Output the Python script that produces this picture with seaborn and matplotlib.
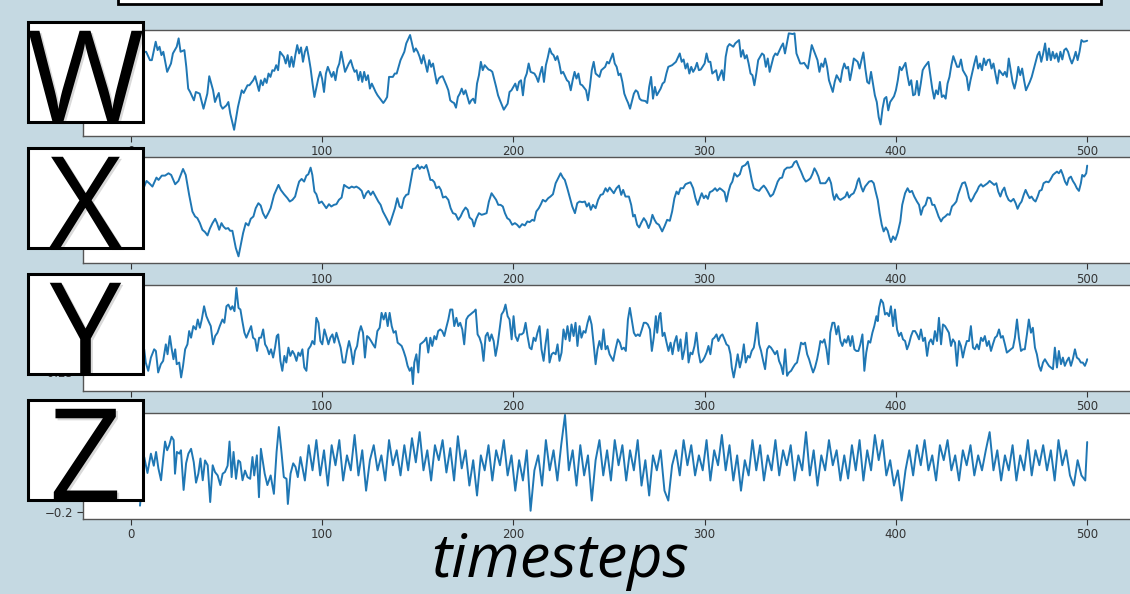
import matplotlib
matplotlib.use("Agg")
import matplotlib.pyplot as plt
import matplotlib.patheffects as pe
from matplotlib.patches import Rectangle
import seaborn as sns

# W series (timestep, value)
w_t = [0, 8, 10, 11, 13, 14, 15, 16, 17, 19, 21, 22, 24, 25, 26, 28, 29, 30, 31, 33, 34, 36, 38, 40, 41, 43, 44, 45, 46, 47, 48, 50, 51, 52, 54, 56, 58, 59, 61, 62, 64, 65, 66, 67, 68, 69, 70, 71, 72, 73, 74, 75, 76, 77, 78, 80, 81, 82, 83, 84, 85, 86, 87, 88, 89, 90, 91, 92, 93, 94, 95, 96, 98, 99, 100, 101, 102, 103, 105, 106, 107, 108, 109, 110, 111, 112, 114, 115, 116, 117, 118, 119, 120, 121, 122, 123, 124, 125, 126, 128, 129, 131, 132, 133, 134, 135, 137, 138, 139, 140, 141, 143, 144, 146, 147, 148, 149, 150, 151, 152, 153, 154, 155, 156, 157, 158, 159, 160, 161, 162, 163, 165, 166, 167, 168, 169, 170, 171, 172, 173, 174, 175, 177, 178, 179, 180, 181, 182, 183, 184, 185, 187, 188, 189, 191, 192, 193, 195, 197, 198, 199, 201, 202, 203, 204, 205, 206, 207, 208, 209, 211, 212, 213, 214, 215, 216, 217, 218, 219, 220, 221, 222, 223, 224, 225, 226, 228, 229, 230, 231, 232, 233, 234, 235, 236, 238, 239, 240, 241, 242, 243, 245, 246, 247, 248, 249, 250, 251, 252, 253, 254, 255, 256, 257, 258, 259, 260, 261, 263, 264, 265, 266, 267, 269, 270, 271, 272, 273, 274, 275, 277, 278, 279, 280, 281, 283, 284, 285, 287, 288, 289, 290, 291, 292, 293, 294, 295, 296, 297, 298, 300, 301, 302, 303, 304, 306, 307, 308, 309, 310, 311, 312, 313, 315, 316, 318, 319, 320, 321, 322, 323, 324, 325, 326, 327, 328, 330, 331, 332, 333, 334, 336, 337, 338, 340, 341, 342, 343, 344, 346, 347, 348, 350, 351, 352, 354, 355, 356, 357, 359, 360, 361, 362, 363, 364, 365, 367, 368, 369, 370, 371, 372, 373, 374, 375, 376, 377, 378, 380, 381, 382, 383, 384, 385, 386, 387, 388, 389, 390, 391, 392, 393, 394, 395, 396, 397, 399, 400, 401, 402, 403, 405, 406, 407, 408, 409, 410, 411, 412, 413, 414, 415, 417, 418, 419, 420, 421, 422, 423, 424, 425, 426, 427, 428, 429, 430, 432, 433, 434, 435, 437, 438, 439, 440, 441, 442, 443, 444, 445, 446, 447, 448, 449, 450, 451, 452, 453, 454, 456, 457, 458, 459, 460, 461, 462, 463, 464, 465, 466, 467, 468, 470, 471, 472, 474, 475, 476, 477, 478, 479, 480, 481, 482, 483, 484, 485, 486, 487, 488, 489, 490, 491, 492, 493, 494, 495, 496, 497, 498, 499, 500]
w_val = [1.80, 1.85, 1.60, 1.60, 2.15, 1.90, 2.00, 1.75, 1.85, 1.25, 1.50, 1.80, 2.00, 2.25, 1.85, 1.90, 1.40, 0.75, 0.65, 0.40, 0.65, 0.60, 0.15, 0.60, 1.12, 0.70, 0.35, 0.50, 0.62, 0.25, 0.15, 0.25, 0.35, 0.00, -0.48, 0.20, 0.70, 0.62, 0.85, 0.85, 1.00, 1.12, 0.90, 0.68, 1.00, 0.85, 1.05, 0.92, 1.20, 1.10, 1.30, 1.28, 1.45, 1.30, 1.85, 1.70, 1.50, 1.75, 1.40, 1.70, 1.40, 1.75, 2.05, 1.80, 1.98, 1.55, 1.85, 2.00, 1.70, 1.35, 0.90, 0.50, 1.05, 1.25, 1.05, 0.65, 1.20, 1.40, 1.10, 1.25, 1.00, 1.35, 1.50, 1.85, 1.55, 1.25, 1.50, 1.60, 1.40, 1.25, 1.30, 1.00, 1.25, 0.95, 1.25, 1.00, 1.15, 0.75, 0.90, 0.65, 0.55, 0.40, 0.32, 0.40, 0.50, 1.10, 1.10, 1.20, 1.20, 1.40, 1.60, 1.85, 2.10, 2.35, 2.10, 1.85, 1.95, 1.85, 1.70, 1.50, 1.75, 1.50, 1.25, 1.60, 1.40, 1.50, 1.20, 0.90, 1.05, 1.10, 1.12, 0.85, 0.70, 0.40, 0.35, 0.32, 0.18, 0.50, 0.60, 0.75, 0.58, 0.70, 0.30, 0.40, 0.45, 0.32, 0.90, 1.15, 1.55, 1.30, 1.45, 1.32, 1.30, 1.25, 0.80, 0.55, 0.40, 0.12, 0.30, 0.65, 0.70, 0.90, 0.70, 0.95, 1.00, 0.55, 1.05, 1.20, 1.50, 1.25, 1.20, 1.10, 0.95, 1.20, 1.40, 0.95, 1.45, 1.68, 1.95, 1.80, 1.75, 1.60, 1.72, 1.50, 1.20, 1.25, 1.00, 0.95, 0.70, 1.00, 1.25, 1.05, 1.20, 0.88, 0.85, 0.70, 0.40, 0.80, 1.30, 1.55, 1.20, 1.10, 1.30, 1.35, 1.40, 1.55, 1.50, 1.65, 1.80, 1.50, 1.40, 1.15, 1.20, 0.95, 0.60, 0.45, 0.32, 0.15, 0.60, 0.70, 0.65, 0.45, 0.40, 0.38, 0.32, 0.80, 1.10, 0.45, 0.80, 0.55, 0.75, 0.90, 0.95, 1.20, 1.40, 1.45, 1.50, 1.55, 1.80, 1.55, 1.62, 1.35, 1.50, 1.20, 1.40, 1.25, 1.35, 1.52, 1.30, 1.32, 1.50, 1.80, 1.55, 1.55, 1.20, 1.30, 1.00, 1.15, 1.30, 1.00, 1.70, 2.00, 2.08, 2.00, 2.10, 2.20, 1.70, 1.90, 1.65, 1.75, 1.50, 1.20, 1.15, 0.85, 1.20, 1.60, 1.80, 1.75, 1.40, 1.65, 1.25, 1.70, 1.80, 1.75, 2.00, 2.10, 1.80, 2.10, 2.40, 2.38, 2.40, 1.80, 1.50, 1.50, 1.52, 1.35, 1.70, 2.05, 1.90, 1.60, 1.25, 1.50, 1.40, 1.65, 1.40, 1.00, 0.65, 0.95, 1.15, 1.05, 0.95, 1.30, 1.50, 1.35, 1.40, 1.00, 1.30, 1.65, 1.55, 1.35, 1.60, 1.83, 1.35, 0.95, 0.90, 1.25, 0.90, 0.55, 0.35, -0.10, -0.32, 0.15, 0.45, 0.50, 0.10, 0.35, 0.52, 0.70, 1.00, 1.40, 1.30, 1.52, 1.15, 0.85, 1.00, 0.55, 0.58, 0.98, 0.55, 0.90, 1.30, 1.40, 1.55, 1.15, 0.75, 0.45, 0.70, 0.58, 0.95, 0.50, 0.55, 0.45, 0.90, 1.10, 1.45, 1.72, 1.40, 1.40, 1.62, 1.30, 1.10, 0.70, 1.00, 1.25, 1.50, 1.72, 1.35, 1.50, 1.30, 1.65, 1.45, 1.60, 1.62, 1.35, 1.50, 1.20, 0.90, 1.30, 1.15, 1.25, 1.10, 1.65, 1.30, 0.95, 0.75, 1.00, 1.40, 1.15, 1.35, 1.00, 0.70, 0.95, 1.10, 1.32, 1.75, 1.85, 1.55, 1.80, 2.10, 1.60, 1.95, 1.60, 1.85, 1.65, 1.80, 1.55, 1.85, 1.62, 1.90, 1.95, 1.85, 1.65, 1.50, 1.65, 1.85, 1.60, 1.85, 2.20, 2.15, 2.16, 2.18]

# X series
x_t = [0.0, 7.0, 8.2, 9.6, 11.3, 13.4, 14.5, 16.2, 17.9, 19.7, 21.1, 23.2, 24.9, 27.3, 28.7, 30.5, 32.2, 33.6, 34.8, 36.1, 37.4, 38.8, 40.1, 41.3, 42.7, 44.1, 45.1, 46.2, 47.4, 48.4, 49.6, 50.9, 51.9, 53.1, 54.9, 56.3, 57.5, 58.7, 60.1, 61.5, 62.7, 64.1, 65.3, 66.7, 67.9, 69.1, 70.5, 71.9, 73.1, 74.9, 77.2, 78.4, 80.1, 81.9, 83.1, 84.5, 85.9, 87.1, 88.0, 89.3, 90.6, 91.8, 92.8, 94.0, 94.9, 96.0, 97.0, 98.4, 99.8, 101.0, 102.2, 103.6, 104.8, 106.2, 107.5, 108.8, 110.2, 111.5, 112.7, 114.1, 115.5, 116.7, 117.9, 119.3, 120.7, 121.9, 123.1, 124.2, 125.4, 126.6, 128.0, 129.4, 130.6, 131.8, 133.2, 134.1, 135.3, 136.7, 138.1, 139.3, 140.5, 141.6, 142.8, 144.0, 145.1, 146.3, 147.5, 148.9, 150.0, 151.0, 152.0, 153.3, 154.5, 155.5, 156.6, 157.6, 158.7, 159.7, 161.1, 162.1, 163.2, 164.6, 166.0, 167.2, 168.4, 169.8, 171.2, 172.4, 173.6, 175.0, 176.1, 177.1, 178.5, 179.4, 180.6, 182.0, 183.4, 184.6, 186.0, 187.2, 188.6, 189.8, 191.0, 192.1, 193.3, 194.5, 195.6, 196.8, 198.0, 199.4, 200.8, 202.0, 203.2, 204.6, 206.0, 207.3, 208.5, 209.9, 210.9, 212.0, 213.3, 214.4, 215.4, 216.8, 218.2, 219.4, 220.7, 222.1, 223.4, 224.7, 225.9, 226.9, 228.2, 229.4, 230.8, 232.2, 233.4, 234.6, 236.0, 237.4, 238.4, 239.5, 240.5, 241.6, 243.0, 244.3, 245.6, 246.8, 248.2, 249.2, 250.3, 252.5, 253.9, 255.2, 256.4, 257.4, 258.6, 260.4, 261.6, 262.6, 263.5, 264.7, 265.8, 266.8, 268.2, 269.4, 270.7, 271.7, 272.7, 273.8, 274.8, 276.1, 277.8, 279.0, 280.4, 281.8, 283.0, 284.2, 285.3, 286.3, 287.4, 288.8, 290.0, 291.2, 292.6, 294.0, 295.2, 296.4, 297.5, 298.5, 299.6, 300.6, 301.7, 302.7, 304.1, 305.5, 306.5, 307.9, 309.1, 310.4, 311.4, 312.5, 313.5, 314.5, 315.6, 317.0, 318.4, 319.6, 321.3, 322.6, 323.6, 324.6, 325.7, 327.1, 328.5, 329.5, 330.9, 332.0, 333.0, 334.4, 335.8, 337.0, 338.2, 339.3, 340.5, 341.7, 343.1, 344.5, 345.7, 346.9, 348.0, 349.2, 350.4, 351.8, 352.9, 354.3, 355.3, 356.3, 357.4, 358.4, 359.5, 360.5, 361.9, 363.1, 364.0, 365.0, 366.1, 367.1, 367.8, 368.9, 369.9, 371.0, 372.4, 373.6, 374.5, 375.5, 376.5, 377.9, 379.0, 380.0, 380.7, 381.8, 382.8, 383.9, 384.9, 386.0, 387.3, 388.4, 389.4, 390.5, 391.5, 392.6, 393.6, 394.7, 395.7, 396.7, 397.4, 398.5, 399.7, 400.9, 402.3, 403.3, 404.8, 406.1, 407.2, 408.4, 409.6, 411.0, 412.1, 413.1, 414.2, 415.5, 416.6, 418.0, 419.0, 420.1, 421.1, 422.3, 423.6, 424.6, 425.8, 427.0, 428.1, 429.3, 430.5, 431.6, 432.6, 433.7, 434.7, 436.1, 437.1, 438.2, 439.2, 440.3, 441.3, 442.4, 443.4, 444.5, 445.5, 446.7, 447.9, 449.0, 450.4, 451.4, 452.5, 453.5, 454.6, 455.6, 456.7, 457.7, 458.9, 460.1, 461.5, 462.6, 463.6, 464.7, 465.7, 466.8, 467.8, 468.8, 469.9, 470.9, 472.0, 473.0, 474.1, 475.1, 476.2, 477.2, 478.6, 479.8, 480.7, 482.1, 483.1, 484.2, 485.2, 486.3, 487.3, 488.4, 489.4, 490.4, 491.5, 492.5, 493.6, 494.6, 495.7, 496.7, 497.4, 498.4, 499.5, 500.0]
x_val = [1.55, 1.55, 1.72, 1.65, 1.55, 1.82, 1.75, 1.88, 1.88, 1.95, 1.90, 1.62, 1.72, 2.08, 1.90, 1.30, 0.80, 0.65, 0.60, 0.45, 0.25, 0.18, 0.08, 0.28, 0.45, 0.58, 0.45, 0.25, 0.45, 0.35, 0.28, 0.30, 0.22, 0.22, -0.30, -0.55, -0.20, 0.15, 0.45, 0.38, 0.58, 0.65, 0.90, 1.05, 0.98, 0.75, 0.60, 0.75, 0.90, 1.30, 1.60, 1.45, 1.32, 1.20, 1.10, 1.15, 1.25, 1.52, 1.70, 1.78, 1.70, 1.88, 1.92, 2.12, 1.90, 1.40, 1.32, 1.05, 1.10, 1.00, 0.90, 1.02, 0.95, 1.00, 1.02, 1.15, 1.22, 1.60, 1.55, 1.50, 1.55, 1.52, 1.55, 1.50, 1.42, 1.20, 1.35, 1.42, 1.30, 1.40, 1.25, 1.10, 1.00, 0.80, 0.65, 0.55, 0.40, 0.65, 0.90, 1.20, 0.95, 0.90, 1.20, 1.30, 1.32, 1.70, 2.08, 2.10, 2.20, 2.08, 2.15, 2.10, 2.20, 2.00, 1.75, 1.75, 1.68, 1.50, 1.55, 1.45, 1.22, 1.25, 1.15, 0.90, 0.75, 0.72, 0.55, 0.65, 0.80, 0.92, 0.85, 0.62, 0.55, 0.35, 0.58, 0.75, 0.70, 0.72, 0.75, 1.10, 1.35, 1.25, 1.15, 1.00, 1.00, 0.95, 0.75, 0.60, 0.55, 0.40, 0.45, 0.40, 0.32, 0.42, 0.38, 0.50, 0.48, 0.55, 0.52, 0.80, 0.90, 1.02, 1.15, 1.10, 1.20, 1.25, 1.32, 1.65, 1.80, 1.95, 1.82, 1.75, 1.50, 1.25, 0.95, 0.75, 1.05, 1.10, 1.08, 1.10, 0.95, 1.05, 0.85, 1.00, 0.90, 1.15, 1.30, 1.32, 1.50, 1.40, 1.52, 1.35, 1.50, 1.58, 1.30, 1.45, 1.25, 1.25, 1.00, 0.65, 0.70, 0.40, 0.32, 0.45, 0.60, 0.50, 0.30, 0.45, 0.70, 0.55, 0.45, 0.40, 0.20, 0.35, 0.55, 0.52, 0.80, 1.20, 1.40, 1.32, 1.50, 1.50, 1.62, 1.65, 1.68, 1.50, 1.20, 1.00, 1.20, 1.35, 1.20, 1.28, 1.18, 1.38, 1.42, 1.50, 1.42, 1.50, 1.45, 1.38, 1.10, 1.40, 1.60, 1.70, 1.95, 1.85, 1.92, 2.15, 2.20, 2.30, 2.05, 1.75, 1.50, 1.45, 1.42, 1.50, 1.58, 1.50, 1.40, 1.25, 1.32, 1.50, 1.70, 1.80, 1.82, 2.05, 2.12, 2.12, 2.15, 2.28, 2.32, 2.15, 2.00, 1.80, 1.70, 1.75, 1.80, 1.92, 2.10, 2.00, 1.85, 1.65, 1.65, 1.65, 1.72, 1.82, 1.65, 1.30, 1.15, 1.32, 1.20, 1.15, 1.20, 1.25, 1.38, 1.22, 1.30, 1.35, 1.50, 1.72, 1.80, 1.55, 1.40, 1.55, 1.62, 1.70, 1.72, 1.65, 1.40, 1.15, 0.75, 0.40, 0.20, 0.32, 0.22, 0.00, -0.12, 0.05, -0.05, 0.15, 0.50, 1.00, 1.35, 1.50, 1.38, 1.42, 1.25, 1.10, 1.00, 0.70, 0.92, 1.00, 1.22, 1.20, 1.00, 1.00, 0.85, 0.65, 0.50, 0.60, 0.65, 0.72, 0.70, 0.95, 1.02, 1.10, 1.32, 1.50, 1.65, 1.68, 1.50, 1.22, 1.10, 1.20, 1.32, 1.42, 1.55, 1.62, 1.55, 1.60, 1.65, 1.72, 1.65, 1.60, 1.65, 1.40, 1.25, 1.42, 1.52, 1.30, 1.15, 1.10, 1.18, 1.05, 0.88, 1.02, 1.10, 1.30, 1.45, 1.32, 1.20, 1.25, 1.15, 1.10, 1.25, 1.42, 1.45, 1.65, 1.70, 1.68, 1.75, 1.90, 1.95, 2.00, 1.95, 2.05, 1.90, 1.70, 1.60, 1.80, 1.85, 1.72, 1.62, 1.50, 1.42, 1.65, 1.90, 1.85, 1.95, 2.18]

# Y series
y_t = [0.0, 7.0, 7.8, 9.1, 10.5, 12.2, 13.1, 14.3, 15.7, 16.9, 18.3, 19.2, 20.4, 21.4, 22.3, 23.2, 24.0, 25.3, 26.3, 27.3, 28.4, 29.6, 30.5, 31.5, 32.7, 34.0, 35.0, 36.1, 37.1, 38.3, 39.5, 40.6, 41.8, 43.0, 44.1, 45.3, 46.5, 47.9, 48.9, 50.0, 51.0, 52.2, 53.1, 54.2, 55.2, 56.3, 57.3, 58.3, 59.4, 60.4, 61.8, 62.9, 63.9, 65.0, 66.0, 67.1, 68.1, 69.2, 70.2, 71.2, 72.3, 73.3, 74.4, 75.4, 76.3, 77.1, 78.2, 79.2, 80.3, 81.3, 82.4, 83.4, 84.5, 85.5, 86.6, 87.6, 88.6, 89.7, 90.7, 91.8, 92.8, 94.0, 94.9, 96.0, 97.0, 98.1, 99.1, 100.1, 101.2, 102.2, 103.3, 104.3, 105.4, 106.4, 107.5, 108.5, 109.7, 110.9, 112.0, 113.0, 114.1, 115.1, 116.2, 117.2, 118.3, 119.3, 120.3, 121.4, 122.4, 123.5, 124.5, 125.6, 126.6, 127.7, 128.9, 130.1, 131.1, 132.2, 133.2, 134.3, 135.3, 136.4, 137.4, 138.5, 139.5, 140.6, 141.6, 142.6, 143.7, 144.7, 145.8, 146.8, 147.5, 148.2, 149.3, 150.3, 151.3, 152.4, 153.4, 154.5, 155.5, 156.6, 157.6, 158.7, 159.7, 160.7, 161.8, 162.8, 163.9, 164.9, 166.0, 167.0, 168.1, 169.1, 170.2, 171.2, 172.2, 173.3, 174.3, 175.4, 176.4, 177.5, 178.5, 179.6, 180.3, 181.3, 182.3, 183.4, 184.4, 185.5, 186.5, 187.6, 188.6, 189.7, 190.7, 191.8, 192.8, 193.8, 194.9, 195.9, 197.0, 198.0, 199.1, 200.1, 201.1, 202.2, 203.2, 204.3, 205.3, 206.4, 207.4, 208.5, 209.5, 210.6, 211.6, 212.6, 213.7, 214.7, 215.8, 216.8, 217.9, 218.9, 220.0, 221.0, 222.1, 223.1, 224.1, 225.2, 226.2, 227.3, 228.3, 229.4, 230.4, 231.5, 232.5, 233.5, 234.6, 235.6, 236.7, 237.7, 238.8, 239.8, 240.9, 241.9, 243.0, 244.0, 245.0, 246.1, 247.1, 248.2, 249.2, 250.3, 252.2, 253.4, 254.6, 255.7, 256.7, 257.8, 258.8, 259.9, 260.9, 261.9, 263.0, 264.0, 265.1, 266.1, 267.2, 268.2, 269.3, 270.3, 271.4, 272.4, 273.4, 274.5, 275.2, 276.2, 276.9, 278.0, 279.0, 280.1, 281.1, 282.2, 283.2, 284.2, 285.3, 286.3, 287.4, 288.4, 289.5, 290.5, 291.6, 292.6, 293.6, 294.7, 295.7, 296.8, 297.8, 298.9, 299.9, 301.0, 302.0, 303.0, 304.1, 305.1, 306.2, 307.2, 308.3, 309.3, 310.4, 311.4, 312.5, 313.5, 314.2, 315.2, 316.3, 317.3, 318.4, 319.4, 320.5, 321.5, 322.6, 323.6, 324.6, 325.7, 326.4, 327.4, 328.5, 329.5, 330.6, 331.6, 332.7, 333.7, 334.7, 335.8, 336.8, 337.9, 338.9, 340.0, 341.0, 342.1, 343.1, 344.1, 345.2, 346.2, 347.3, 348.3, 349.4, 350.4, 351.5, 352.5, 353.6, 354.6, 355.6, 356.7, 357.7, 358.8, 359.8, 360.5, 361.6, 362.6, 363.7, 364.7, 365.7, 366.8, 367.8, 368.9, 369.9, 371.0, 372.0, 373.1, 374.1, 375.1, 376.2, 377.2, 378.3, 379.3, 380.4, 381.4, 382.5, 383.5, 384.5, 385.6, 386.6, 387.7, 388.7, 389.8, 390.5, 391.2, 392.2, 393.3, 394.3, 395.3, 396.4, 397.4, 398.5, 399.5, 400.6, 401.6, 402.7, 403.7, 404.8, 405.8, 406.8, 407.9, 408.9, 410.0, 411.0, 412.1, 413.1, 414.2, 415.2, 416.3, 417.3, 418.3, 419.4, 420.4, 421.5, 422.5, 423.6, 424.6, 425.7, 426.7, 427.7, 428.8, 429.8, 430.9, 431.9, 433.0, 434.0, 435.0, 436.1, 437.1, 438.2, 439.2, 440.3, 441.3, 442.4, 443.4, 444.5, 445.5, 446.5, 447.6, 448.6, 449.7, 450.7, 451.8, 452.8, 453.9, 454.9, 455.9, 457.0, 458.0, 459.1, 460.1, 461.2, 462.2, 463.3, 464.3, 465.4, 466.4, 467.4, 468.5, 469.5, 470.6, 471.6, 472.7, 473.7, 474.8, 475.8, 476.9, 477.9, 478.9, 480.0, 481.0, 482.1, 483.1, 484.2, 485.2, 486.3, 487.3, 488.3, 489.4, 490.4, 491.5, 492.5, 493.6, 494.6, 495.7, 496.7, 497.7, 498.8, 499.8, 500.0]
y_val = [-0.15, -0.11, -0.19, -0.24, -0.16, -0.11, -0.12, -0.25, -0.20, -0.18, -0.08, -0.14, -0.03, -0.11, -0.17, -0.11, -0.20, -0.19, -0.28, -0.21, -0.11, -0.08, 0.00, -0.04, 0.03, 0.01, 0.07, 0.02, 0.07, 0.15, 0.09, 0.06, 0.03, -0.08, -0.03, -0.01, 0.03, 0.07, 0.05, 0.15, 0.16, 0.13, 0.15, 0.12, 0.26, 0.14, 0.13, 0.06, -0.01, -0.04, 0.00, 0.03, -0.04, -0.05, -0.12, -0.04, -0.04, 0.01, -0.08, -0.10, -0.14, -0.11, -0.16, -0.10, -0.03, -0.02, -0.18, -0.24, -0.15, -0.19, -0.10, -0.15, -0.12, -0.14, -0.18, -0.13, -0.15, -0.11, -0.22, -0.24, -0.11, -0.09, -0.06, -0.08, 0.08, 0.05, -0.06, -0.08, 0.01, -0.03, -0.08, -0.04, -0.02, -0.07, -0.01, -0.05, -0.10, -0.19, -0.19, -0.12, -0.06, -0.11, -0.20, -0.12, -0.09, -0.01, 0.03, -0.01, -0.16, -0.03, -0.04, -0.06, -0.08, -0.10, 0.00, 0.02, 0.11, 0.07, 0.11, 0.03, 0.11, 0.03, -0.01, 0.00, -0.07, -0.08, -0.09, -0.12, -0.16, -0.21, -0.24, -0.22, -0.32, -0.19, -0.14, -0.25, -0.08, -0.07, -0.06, -0.04, -0.13, -0.04, -0.09, -0.03, -0.05, 0.00, 0.01, 0.00, -0.03, 0.02, 0.07, 0.13, 0.13, 0.03, 0.08, 0.03, 0.05, 0.01, -0.08, 0.07, 0.09, 0.10, 0.11, 0.12, 0.13, -0.02, -0.04, -0.08, -0.18, -0.03, -0.01, -0.06, -0.02, -0.06, -0.15, -0.08, 0.01, 0.10, 0.12, 0.16, 0.09, 0.07, -0.05, 0.09, -0.03, -0.06, -0.02, -0.02, -0.01, 0.05, -0.03, -0.10, -0.11, -0.04, -0.06, -0.01, 0.03, -0.11, -0.18, -0.08, 0.01, -0.19, -0.14, -0.13, -0.14, -0.08, -0.18, -0.13, 0.01, -0.05, 0.03, -0.06, 0.04, -0.03, 0.05, -0.09, 0.03, -0.04, 0.00, -0.01, 0.05, 0.09, 0.04, -0.07, -0.20, -0.11, -0.06, -0.11, 0.01, -0.11, -0.09, -0.14, -0.18, -0.11, -0.05, -0.07, -0.11, -0.10, -0.12, 0.07, 0.14, 0.07, -0.01, -0.03, -0.02, -0.03, 0.01, 0.05, 0.05, 0.04, 0.01, -0.12, -0.04, 0.09, -0.01, 0.09, 0.11, -0.03, -0.01, -0.07, -0.12, -0.07, -0.14, -0.07, -0.03, -0.12, -0.05, -0.17, -0.11, -0.01, -0.19, -0.13, -0.14, -0.09, -0.01, -0.13, -0.19, -0.18, -0.16, -0.13, -0.09, -0.14, -0.05, -0.04, -0.02, -0.06, -0.03, -0.02, -0.05, -0.08, -0.09, -0.14, -0.22, -0.28, -0.21, -0.14, -0.22, -0.17, -0.08, -0.19, -0.15, -0.16, -0.12, -0.10, -0.05, 0.05, -0.08, -0.12, -0.18, -0.23, -0.11, -0.09, -0.10, -0.12, -0.14, -0.12, -0.18, -0.21, -0.26, -0.11, -0.27, -0.25, -0.24, -0.22, -0.20, -0.19, -0.13, -0.07, -0.08, -0.07, -0.14, -0.17, -0.21, -0.25, -0.22, -0.17, -0.11, -0.06, -0.07, -0.05, -0.11, -0.20, -0.01, 0.05, 0.05, -0.02, 0.03, -0.06, -0.09, -0.05, -0.07, -0.03, -0.09, -0.03, -0.11, -0.12, -0.12, -0.08, -0.02, -0.24, -0.13, -0.06, -0.07, -0.01, 0.03, 0.09, 0.06, 0.14, 0.19, 0.17, 0.10, 0.11, 0.09, 0.15, 0.03, 0.13, 0.01, -0.03, -0.01, -0.05, -0.06, -0.11, -0.08, -0.03, 0.00, 0.00, -0.02, -0.05, 0.01, -0.06, -0.04, -0.15, -0.07, -0.05, -0.08, 0.00, -0.06, 0.08, -0.08, 0.04, 0.03, 0.01, -0.01, -0.09, -0.05, -0.07, -0.21, -0.06, -0.09, -0.16, -0.10, -0.06, -0.06, 0.03, -0.10, -0.11, -0.08, -0.11, -0.04, -0.06, -0.03, -0.09, -0.06, -0.12, -0.08, -0.04, -0.03, 0.01, -0.04, -0.03, -0.08, -0.13, -0.12, -0.11, -0.10, -0.04, 0.07, -0.04, -0.12, -0.11, -0.11, -0.02, 0.07, -0.01, 0.02, -0.10, -0.14, -0.21, -0.24, -0.19, -0.17, -0.19, -0.21, -0.22, -0.23, -0.10, -0.22, -0.12, -0.20, -0.16, -0.21, -0.18, -0.16, -0.21, -0.17, -0.11, -0.16, -0.17, -0.19, -0.19, -0.21, -0.18, -0.17]

# Z series
z_t = [4.8, 7.0, 8.7, 10.5, 12.0, 13.2, 14.4, 15.8, 17.0, 17.9, 19.0, 20.1, 21.3, 22.4, 23.1, 24.1, 25.4, 26.2, 27.6, 28.9, 30.1, 31.5, 32.9, 34.1, 35.3, 36.4, 37.6, 38.8, 40.2, 41.5, 42.8, 44.0, 45.4, 46.8, 48.0, 49.2, 50.6, 51.6, 52.7, 53.7, 55.0, 56.2, 57.2, 58.4, 59.7, 61.0, 62.4, 63.6, 64.5, 65.9, 67.0, 68.0, 70.0, 71.4, 73.1, 74.8, 76.2, 77.4, 78.6, 80.0, 81.4, 82.1, 83.5, 84.9, 86.1, 87.3, 88.7,
       91, 93, 95, 97, 99, 101, 103, 105, 107, 109, 111, 113, 115, 117, 119, 121, 123, 125, 127, 129, 131, 133, 135, 137, 139, 141, 143, 145, 147, 149, 151, 153, 155, 157, 159, 161, 163, 165, 167, 169, 171, 173, 175, 177, 179, 181, 183, 185, 187, 189, 191, 193, 195, 197, 199, 201, 203, 205, 207, 209, 211, 213, 215, 217, 219, 221, 223, 225, 227, 229, 231, 233, 235, 237, 239, 241, 243, 245, 247, 249, 251, 253, 255, 257, 259, 261, 263, 265, 267, 269, 271, 273, 275, 277, 279, 281, 283, 285, 287, 289, 291, 293, 295, 297, 299, 301, 303, 305, 307, 309, 311, 313, 315, 317, 319, 321, 323, 325, 327, 329, 331, 333, 335, 337, 339, 341, 343, 345, 347, 349, 351, 353, 355, 357, 359, 361, 363, 365, 367, 369, 371, 373, 375, 377, 379, 381, 383, 385, 387, 389, 391, 393, 395, 397, 399, 401, 403, 405, 407, 409, 411, 413, 415, 417, 419, 421, 423, 425, 427, 429, 431, 433, 435, 437, 439, 441, 443, 445, 447, 449, 451, 453, 455, 457, 459, 461, 463, 465, 467, 469, 471, 473, 475, 477, 479, 481, 483, 485, 487, 489, 491, 493, 495, 497, 499, 500]
z_val = [-0.175, 0.026, -0.04, 0.04, -0.01, 0.047, -0.02, -0.07, 0.026, 0.09, 0.054, 0.075, 0.11, 0.096, -0.043, 0.047, 0.04, 0.054, -0.11, 0.0, 0.04, 0.06, 0.005, -0.08, -0.043, 0.02, -0.07, 0.012, -0.008, -0.16, -0.008, -0.036, -0.05, -0.09, -0.043, -0.036, -0.01, 0.09, -0.057, 0.047, -0.064, 0.012, 0.005, -0.07, -0.03, -0.057, -0.064, 0.026, -0.05, 0.033, -0.14, 0.06, -0.043, -0.09, -0.05, -0.126, 0.047, 0.15, 0.06, -0.057, -0.064, -0.168, -0.043, 0.0, -0.015, -0.057, 0.026,
         -0.071, 0.075, -0.029, 0.096, -0.05, 0.054, -0.092, 0.075, -0.008, 0.096, -0.071, 0.033, -0.029, 0.117, -0.05, 0.054, -0.113, 0.013, 0.075, -0.029, 0.033, -0.071, 0.096, -0.008, 0.054, -0.05, 0.075, -0.029, 0.104, 0.004, 0.129, -0.029, 0.054, -0.071, 0.075, 0.013, 0.096, -0.038, 0.063, -0.071, 0.112, -0.021, 0.054, -0.092, 0.013, -0.133, 0.033, -0.029, 0.075, -0.071, 0.054, -0.008, 0.096, -0.05, 0.033, -0.113, 0.013, -0.071, 0.054, -0.196, -0.029, 0.033, -0.092, 0.096, -0.029, 0.054, -0.071, 0.075, 0.2, -0.029, 0.054, -0.092, 0.075, -0.05, 0.033, -0.154, 0.013, 0.096, -0.05, 0.054, -0.071, 0.096, -0.008, 0.075, -0.071, 0.054, -0.029, 0.096, -0.092, 0.013, -0.133, 0.033, -0.029, 0.054, -0.113, -0.154, -0.008, 0.054, -0.05, 0.096, -0.008, 0.075, -0.05, 0.033, -0.029, 0.096, -0.071, 0.054, -0.008, 0.117, -0.029, 0.075, -0.071, 0.033, -0.113, 0.013, -0.05, 0.096, -0.029, 0.075, -0.071, 0.033, -0.029, 0.096, -0.05, 0.054, -0.008, 0.075, -0.071, 0.033, -0.029, 0.129, -0.05, 0.054, -0.092, 0.033, -0.029, 0.096, -0.008, 0.054, -0.071, 0.033, -0.063, 0.075, -0.029, 0.096, -0.071, 0.054, -0.029, 0.117, 0.013, 0.096, -0.05, 0.013, -0.092, -0.029, -0.154, -0.029, 0.054, -0.05, 0.075, -0.008, 0.096, -0.029, 0.033, -0.071, 0.075, 0.013, 0.096, -0.029, 0.033, -0.071, 0.054, -0.008, 0.075, -0.05, 0.033, -0.029, 0.054, 0.129, -0.029, 0.054, -0.071, 0.033, -0.029, 0.075, -0.071, 0.033, -0.029, 0.096, -0.05, 0.054, -0.008, 0.075, -0.029, 0.054, -0.071, 0.096, -0.008, 0.054, -0.05, -0.092, 0.013, -0.05, -0.071, 0.088]

letters = ["W", "X", "Y", "Z"]
series = [(w_t, w_val), (x_t, x_val), (y_t, y_val), (z_t, z_val)]
ylims = [(-0.65, 2.515), (-0.75, 2.44), (-0.36, 0.28), (-0.228, 0.21)]
yticks = [[], [], [-0.25], [-0.2]]
xticks = [0, 100, 200, 300, 400, 500]

sns.set_style("ticks")
plt.rcParams["font.family"] = ["DejaVu Sans"]

W, H = 1130, 594
bg = "#c5d9e2"
fig = plt.figure(figsize=(W / 100, H / 100), dpi=100, facecolor=bg)

ax_left, ax_right = 83, 1135
tops = [29.5, 157, 284.7, 412.5]
ax_h = 106

for i, (t, v) in enumerate(series):
    top = tops[i]
    ax = fig.add_axes([ax_left / W, 1 - (top + ax_h) / H, (ax_right - ax_left) / W, ax_h / H])
    ax.set_facecolor("white")
    sns.lineplot(x=t, y=v, ax=ax, color="#1f77b4", linewidth=1.4, estimator=None, sort=False)
    ax.set_xlim(-25, 525)
    ax.set_ylim(*ylims[i])
    ax.set_xticks(xticks)
    ax.set_yticks(yticks[i])
    ax.tick_params(labelsize=8.5, length=4, width=0.8, colors="#333333", pad=3)
    for s in ax.spines.values():
        s.set_color("#555555")
        s.set_linewidth(1.0)
    ax.set_xlabel("")
    ax.set_ylabel("")

# letter boxes
for i, letter in enumerate(letters):
    btop = 22 + 126 * i
    fig.add_artist(Rectangle((28 / W, 1 - (btop + 100) / H), 115 / W, 100 / H,
                             transform=fig.transFigure, facecolor="white",
                             edgecolor="black", linewidth=2.2, zorder=5))
    fig.text(85.5 / W, 1 - (btop + 100) / H, letter, ha="center", va="baseline",
             fontsize=92, family="Open Sans", color="black", zorder=6,
             path_effects=[pe.withSimplePatchShadow(offset=(1.5, -1.5), alpha=0.15)])

# top box
fig.add_artist(Rectangle((118 / W, 1 - 4 / H), (1101 - 118) / W, 20 / H,
                         transform=fig.transFigure, facecolor="white",
                         edgecolor="black", linewidth=2.0, zorder=5))

fig.text(560 / W, 1 - 577 / H, "timesteps", ha="center", va="baseline",
         fontsize=44, style="italic", family="Open Sans", color="black", zorder=6)

fig.savefig("out.png", dpi=100, facecolor=bg)
